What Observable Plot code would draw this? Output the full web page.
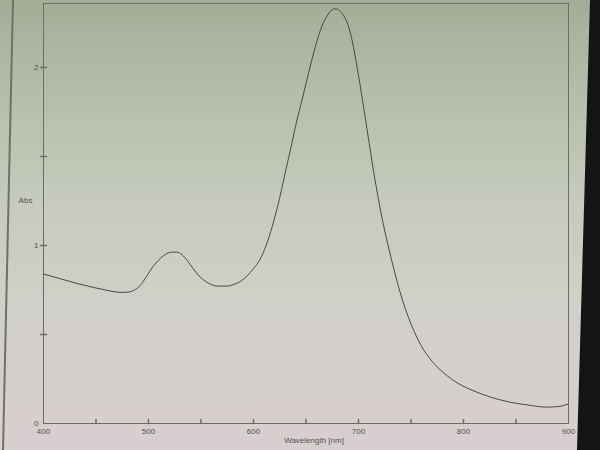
<!DOCTYPE html>
<html>
<head>
<meta charset="utf-8">
<script src="https://cdn.jsdelivr.net/npm/d3@7"></script>
<script src="https://cdn.jsdelivr.net/npm/@observablehq/plot@0.6"></script>
<style>
  html, body { margin: 0; padding: 0; }
  body {
    width: 600px; height: 450px; overflow: hidden; position: relative;
    background: linear-gradient(180deg, #a2ad96 0%, #b4bda9 20%, #c6cbbd 45%, #d2d0ca 70%, #d7cfd0 100%);
    font-family: "Liberation Sans", Arial, sans-serif;
  }
  #chart { position: absolute; left: 0; top: 0; }
  #bezel {
    position: absolute; left: 0; top: 0; width: 600px; height: 450px; pointer-events: none;
    background: #141414;
    clip-path: polygon(590px 0, 600px 0, 600px 450px, 577px 450px);
  }
  #edge {
    position: absolute; left: 0; top: 0; width: 600px; height: 450px; pointer-events: none;
    background: #6d7366;
    clip-path: polygon(12px 0, 14px 0, 4px 450px, 2px 450px);
  }
</style>
</head>
<body>
<div id="chart"></div>
<div id="edge"></div>
<div id="bezel"></div>
<script>
// Absorbance spectrum
const wavelength = [400,415,430,445,455,465,473,480,486,492,498,504,510,516,522,527,532,537,542,548,554,560,566,574,582,588,594,600,606,612,618,625,631,636,640,645,650,655,660,665,670,675,678,682,686,690,694,699,704,709,714,719,724,729,734,739,744,751,759,770,781,795,809,825,844,860,879,890,900];
const absorbance = [0.84,0.815,0.79,0.768,0.755,0.743,0.737,0.738,0.748,0.775,0.825,0.88,0.92,0.95,0.963,0.963,0.948,0.915,0.875,0.83,0.80,0.78,0.772,0.772,0.783,0.80,0.83,0.87,0.92,1.00,1.11,1.27,1.43,1.56,1.67,1.79,1.91,2.03,2.14,2.23,2.29,2.325,2.33,2.32,2.29,2.24,2.15,1.99,1.81,1.62,1.43,1.26,1.11,0.98,0.86,0.75,0.655,0.545,0.445,0.35,0.285,0.225,0.185,0.15,0.12,0.105,0.092,0.095,0.11];
const xTickLabels = [400,500,600,700,800,900];
const xTicks = [450,500,550,600,650,700,750,800,850];
const yTickLabels = [0,1,2];
const yTicks = [0.5,1,1.5,2];

const data = wavelength.map((w, i) => ({w, a: absorbance[i]}));
const line = {draw(context, l) { context.moveTo(0, 0); context.lineTo(0, -l); }};
const ink = "#6a6e67";
const font = {fontSize: 8, fill: "#4f524d"};

const chart = Plot.plot({
  width: 600,
  height: 450,
  marginLeft: 43,
  marginRight: 32,
  marginTop: 3,
  marginBottom: 27,
  style: {background: "transparent", fontFamily: "Liberation Sans, Arial, sans-serif", color: "#4f524d"},
  x: {domain: [400, 900]},
  y: {domain: [0, 2.36]},
  marks: [
    Plot.frame({stroke: ink, strokeWidth: 1}),
    Plot.axisX(xTickLabels, {tickSize: 0, tickPadding: 5, fontSize: 8, label: null, tickFormat: "d"}),
    Plot.axisY(yTickLabels, {tickSize: 0, tickPadding: 5, fontSize: 8, label: null, tickFormat: "d"}),
    Plot.vector(xTicks, {x: d => d, y: 0, length: 4, rotate: 0, anchor: "start", shape: line, stroke: ink}),
    Plot.vector(yTicks, {x: 400, y: d => d, length: 6, rotate: 90, anchor: "middle", shape: line, stroke: ink}),
    Plot.line(data, {x: "w", y: "a", curve: "monotone-x", stroke: "#434b42", strokeWidth: 1}),
    Plot.text(["Abs"], {frameAnchor: "left", dx: -18, dy: -13, textAnchor: "middle", ...font}),
    Plot.text(["Wavelength [nm]"], {frameAnchor: "bottom", dx: 8, dy: 19, textAnchor: "middle", ...font})
  ]
});
document.getElementById("chart").appendChild(chart);
</script>
</body>
</html>
